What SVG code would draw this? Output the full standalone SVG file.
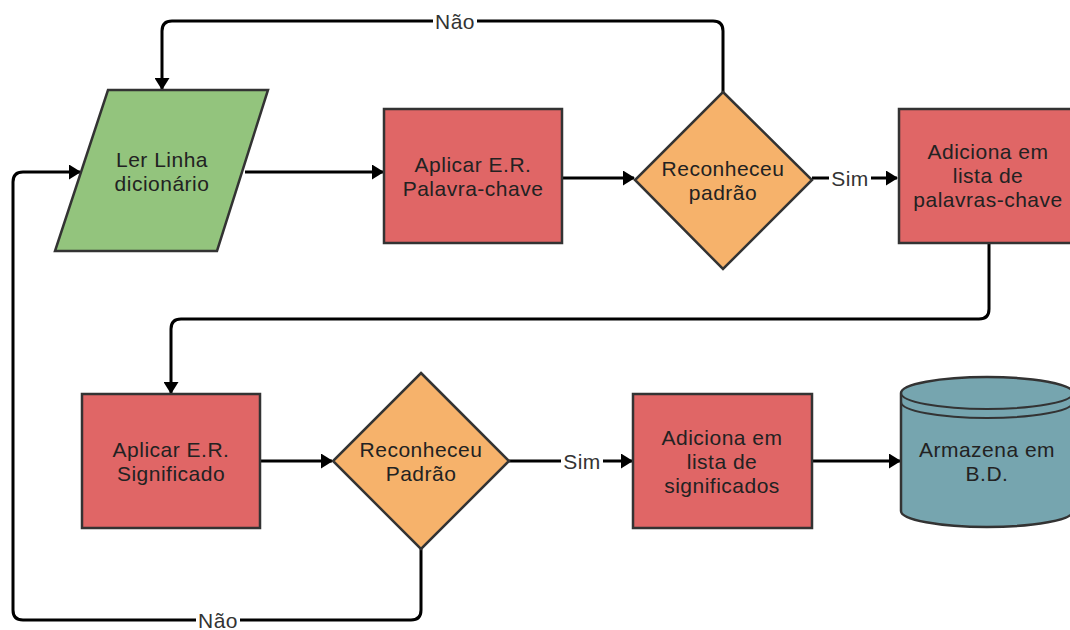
<svg xmlns="http://www.w3.org/2000/svg" width="1070" height="630" viewBox="0 0 1070 630">
  <defs>
    <marker id="arr" viewBox="0 0 12 15" refX="11" refY="7.5" markerWidth="12" markerHeight="15" markerUnits="userSpaceOnUse" orient="auto">
      <path d="M0,0 L12,7.5 L0,15 Z" fill="#000"/>
    </marker>
    <style>
      .shape { stroke: #333; stroke-width: 2.5; }
      .proc { fill: #e06666; }
      .io { fill: #93c47d; }
      .dec { fill: #f6b26b; }
      .db { fill: #76a5af; }
      .conn { fill: none; stroke: #000; stroke-width: 3; }
      .t { font-family: "Liberation Sans", Arial, sans-serif; font-size: 21px; letter-spacing: 0.5px; fill: #222; text-anchor: middle; }
      .lbl { font-family: "Liberation Sans", Arial, sans-serif; font-size: 21px; letter-spacing: 0.5px; fill: #333; text-anchor: middle; }
      .lblbg { fill: #fff; }
    </style>
  </defs>
  <rect width="1070" height="630" fill="#fff"/>

  <g id="connectors">
    <path class="conn" d="M723,92 V31 Q723,21 713,21 H172 Q162,21 162,31 V89" marker-end="url(#arr)"/>
    <path class="conn" d="M421,548 V610 Q421,620 411,620 H23 Q13,620 13,610 V182 Q13,172 23,172 H80" marker-end="url(#arr)"/>
    <path class="conn" d="M245,172 H383" marker-end="url(#arr)"/>
    <path class="conn" d="M562,178 H634" marker-end="url(#arr)"/>
    <path class="conn" d="M812,178 H897" marker-end="url(#arr)"/>
    <path class="conn" d="M989,243 V309 Q989,319 979,319 H181 Q171,319 171,329 V393" marker-end="url(#arr)"/>
    <path class="conn" d="M260,461 H332" marker-end="url(#arr)"/>
    <path class="conn" d="M509,461 H632" marker-end="url(#arr)"/>
    <path class="conn" d="M812,461 H900" marker-end="url(#arr)"/>
    <g id="labels">
      <rect class="lblbg" x="433" y="8" width="44" height="26"/>
      <text class="lbl" x="455" y="28.5">Não</text>
      <rect class="lblbg" x="196" y="607" width="44" height="23"/>
      <text class="lbl" x="218" y="627.5">Não</text>
      <rect class="lblbg" x="829" y="165" width="42" height="26"/>
      <text class="lbl" x="850" y="185.5">Sim</text>
      <rect class="lblbg" x="561" y="448" width="42" height="26"/>
      <text class="lbl" x="582" y="468.5">Sim</text>
    </g>
  </g>

  <g id="ler-linha">
    <polygon class="shape io" points="108,90 268,90 217,251 55,251"/>
    <text class="t" x="162" y="167">Ler Linha</text>
    <text class="t" x="162" y="191">dicionário</text>
  </g>

  <g id="aplicar-palavra">
    <rect class="shape proc" x="384" y="109" width="178" height="134"/>
    <text class="t" x="473" y="172">Aplicar E.R.</text>
    <text class="t" x="473" y="196">Palavra-chave</text>
  </g>

  <g id="reconheceu-1">
    <polygon class="shape dec" points="723,92 812,180 723,269 635,180"/>
    <text class="t" x="723" y="175.5">Reconheceu</text>
    <text class="t" x="723" y="199.5">padrão</text>
  </g>

  <g id="adiciona-palavras">
    <rect class="shape proc" x="899" y="109" width="180" height="134"/>
    <text class="t" x="988" y="159">Adiciona em</text>
    <text class="t" x="988" y="183">lista de</text>
    <text class="t" x="988" y="207">palavras-chave</text>
  </g>

  <g id="aplicar-significado">
    <rect class="shape proc" x="82" y="394" width="178" height="134"/>
    <text class="t" x="171" y="457">Aplicar E.R.</text>
    <text class="t" x="171" y="481">Significado</text>
  </g>

  <g id="reconheceu-2">
    <polygon class="shape dec" points="421,373 509,461 421,549 333,461"/>
    <text class="t" x="421" y="456.5">Reconheceu</text>
    <text class="t" x="421" y="480.5">Padrão</text>
  </g>

  <g id="adiciona-significados">
    <rect class="shape proc" x="633" y="394" width="179" height="134"/>
    <text class="t" x="722" y="445">Adiciona em</text>
    <text class="t" x="722" y="469">lista de</text>
    <text class="t" x="722" y="493">significados</text>
  </g>

  <g id="armazena-bd">
    <path class="shape db" d="M901,393 A86,16 0 0 1 1073,393 V511 A86,16 0 0 1 901,511 Z"/>
    <path fill="none" stroke="#333" stroke-width="2" d="M901,393 A86,16 0 0 0 1073,393 M901,402 A86,16 0 0 0 1073,402"/>
    <text class="t" x="987" y="457">Armazena em</text>
    <text class="t" x="987" y="481">B.D.</text>
  </g>
</svg>
